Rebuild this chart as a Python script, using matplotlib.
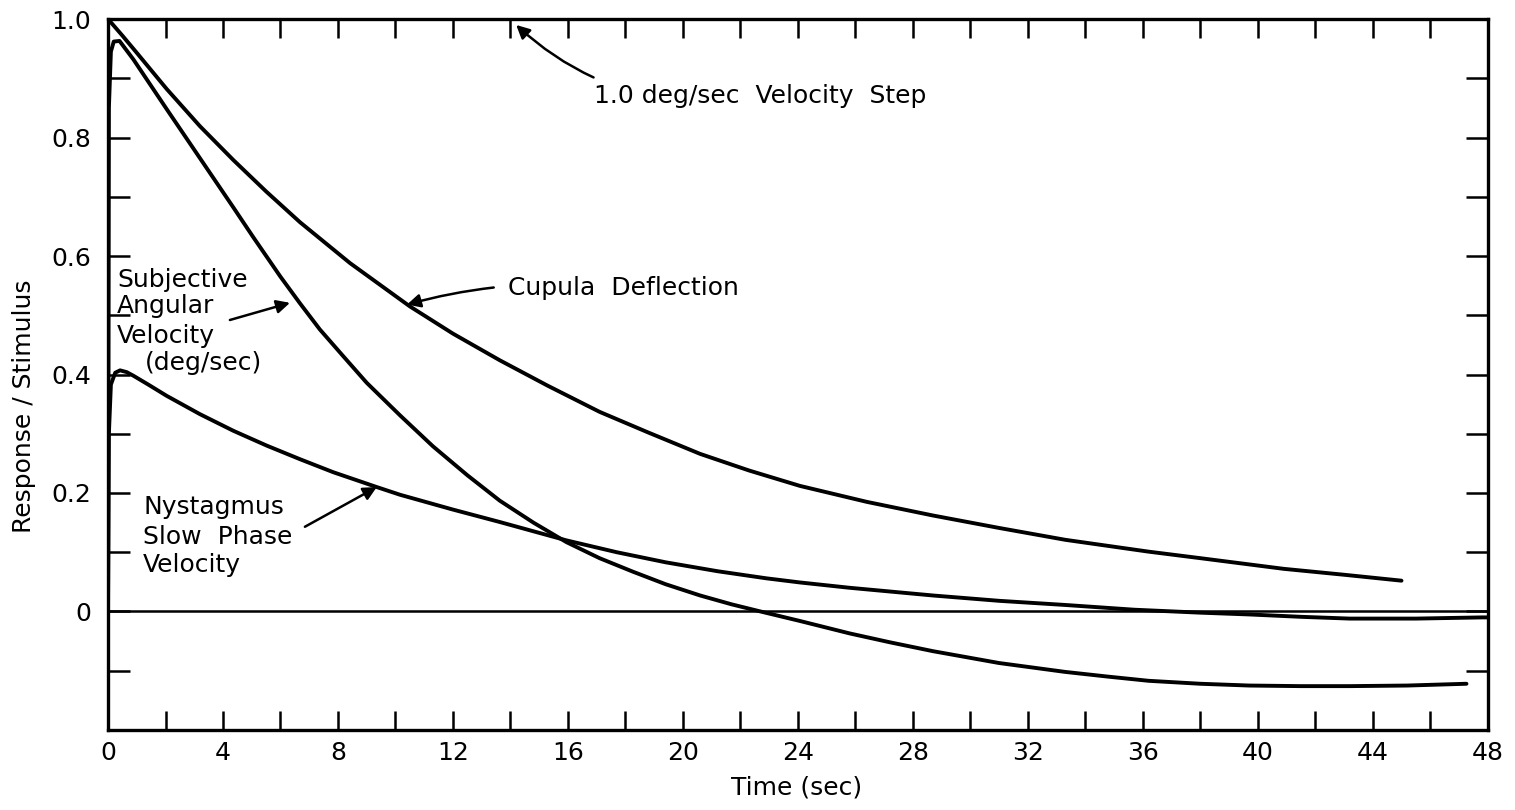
import matplotlib
matplotlib.use("Agg")
from matplotlib import pyplot as plt
from matplotlib.ticker import MultipleLocator

# values (time in sec, response / stimulus)
cupulaT = [0, 0.5, 1, 2.04, 3.2, 4.36, 5.5, 6.68, 8.42, 10.5, 12, 13.63, 15.3, 17.1, 18.8,
           20.6, 22.3, 24.07, 26.4, 28.7, 31, 33.3, 36.2, 38, 40.9, 43, 45]
cupulaV = [1.0, 0.972, 0.943, 0.882, 0.819, 0.762, 0.709, 0.657, 0.588, 0.515, 0.469, 0.424,
           0.381, 0.337, 0.302, 0.266, 0.238, 0.212, 0.185, 0.162, 0.141, 0.121, 0.101, 0.09,
           0.072, 0.062, 0.052]

subjT = [0, 0.03, 0.1, 0.2, 0.4, 0.88, 2.04, 3.2, 4.36, 5.05, 6.0, 6.68, 7.37, 8.2, 9.0,
         10.16, 11.3, 12.5, 13.63, 14.8, 15.95, 17.1, 18.27, 19.4, 20.6, 21.7, 22.7, 24.07,
         25.8, 27.2, 28.7, 31, 33.3, 34.8, 36.2, 38, 39.7, 41.5, 43.2, 45.2, 47.26]
subjV = [0.0, 0.85, 0.945, 0.962, 0.963, 0.932, 0.848, 0.765, 0.682, 0.632, 0.565, 0.52,
         0.476, 0.43, 0.386, 0.331, 0.279, 0.23, 0.187, 0.15, 0.117, 0.09, 0.067, 0.046,
         0.027, 0.012, 0.0, -0.016, -0.037, -0.052, -0.067, -0.087, -0.102, -0.11, -0.117,
         -0.122, -0.125, -0.126, -0.126, -0.125, -0.122]

nystT = [0, 0.03, 0.1, 0.25, 0.42, 0.65, 0.88, 1.4, 2.04, 3.2, 4.36, 5.52, 6.68, 7.84, 9.35,
         10.16, 12, 13.63, 15.95, 17.7, 19.4, 21.2, 22.9, 24.07, 25.8, 28.7, 31, 33.3, 35.7,
         38, 39.7, 41.5, 43.2, 45.5, 47.8, 48]
nystV = [0.0, 0.3, 0.383, 0.403, 0.407, 0.404, 0.398, 0.383, 0.364, 0.333, 0.305, 0.28,
         0.257, 0.235, 0.21, 0.197, 0.172, 0.151, 0.12, 0.1, 0.083, 0.068, 0.056, 0.049,
         0.04, 0.027, 0.018, 0.011, 0.003, -0.002, -0.005, -0.009, -0.012, -0.012, -0.01,
         -0.01]

xTicks = [0, 4, 8, 12, 16, 20, 24, 28, 32, 36, 40, 44, 48]
yTicks = [0, 0.2, 0.4, 0.6, 0.8, 1.0]
yTickLabels = ['0', '0.2', '0.4', '0.6', '0.8', '1.0']

FONT = 18
LW = 2.8
ARROW = dict(arrowstyle='-|>', color='black', lw=1.8, shrinkA=0, shrinkB=0,
             mutation_scale=20)

fig = plt.figure(figsize=(15.15, 8.1), dpi=100)
ax = fig.add_axes([0.0713, 0.0988, 0.9107, 0.8777])

for t, v in [(cupulaT, cupulaV), (subjT, subjV), (nystT, nystV)]:
    ax.plot(t, v, color='black', lw=LW, solid_capstyle='round', solid_joinstyle='round')
ax.axhline(0, color='black', lw=1.8)

ax.set_xlim(0, 48)
ax.set_ylim(-0.2, 1.0)

ax.set_xticks(xTicks)
ax.set_xticklabels([str(t) for t in xTicks])
ax.xaxis.set_minor_locator(MultipleLocator(2))
ax.set_yticks(yTicks)
ax.set_yticklabels(yTickLabels)
ax.yaxis.set_minor_locator(MultipleLocator(0.1))

ax.tick_params(axis='x', which='both', direction='in', length=14, width=1.8,
               top=True, bottom=True, labelsize=FONT, pad=8)
ax.tick_params(axis='y', which='both', direction='in', length=16, width=1.8,
               left=True, right=True, labelsize=FONT, pad=12)
for s in ax.spines.values():
    s.set_linewidth(2.4)

ax.set_xlabel('Time (sec)', fontsize=FONT)
ax.xaxis.set_label_coords(0.499, -0.064)
ax.set_ylabel('Response / Stimulus', fontsize=FONT)
ax.yaxis.set_label_coords(-0.052, 0.455)

# annotations
ax.annotate('1.0 deg/sec  Velocity  Step', xy=(14.2, 0.99), xytext=(16.9, 0.859),
            fontsize=FONT, va='baseline', ha='left',
            arrowprops=dict(ARROW, connectionstyle='arc3,rad=-0.25', shrinkA=6))
ax.annotate('Cupula  Deflection', xy=(10.4, 0.518), xytext=(13.9, 0.534),
            fontsize=FONT, va='baseline', ha='left',
            arrowprops=dict(ARROW, connectionstyle='arc3,rad=0.1', shrinkA=8))

ax.text(0.31, 0.548, 'Subjective', fontsize=FONT, va='baseline', ha='left')
ax.text(0.31, 0.504, 'Angular', fontsize=FONT, va='baseline', ha='left')
ax.text(0.31, 0.454, 'Velocity', fontsize=FONT, va='baseline', ha='left')
ax.text(1.29, 0.408, '(deg/sec)', fontsize=FONT, va='baseline', ha='left')
ax.annotate('', xy=(6.33, 0.521), xytext=(4.24, 0.492), arrowprops=ARROW)

ax.text(1.22, 0.165, 'Nystagmus', fontsize=FONT, va='baseline', ha='left')
ax.text(1.22, 0.114, 'Slow  Phase', fontsize=FONT, va='baseline', ha='left')
ax.text(1.22, 0.067, 'Velocity', fontsize=FONT, va='baseline', ha='left')
ax.annotate('', xy=(9.35, 0.21), xytext=(6.85, 0.143), arrowprops=ARROW)

fig.savefig('out.png', dpi=100)
